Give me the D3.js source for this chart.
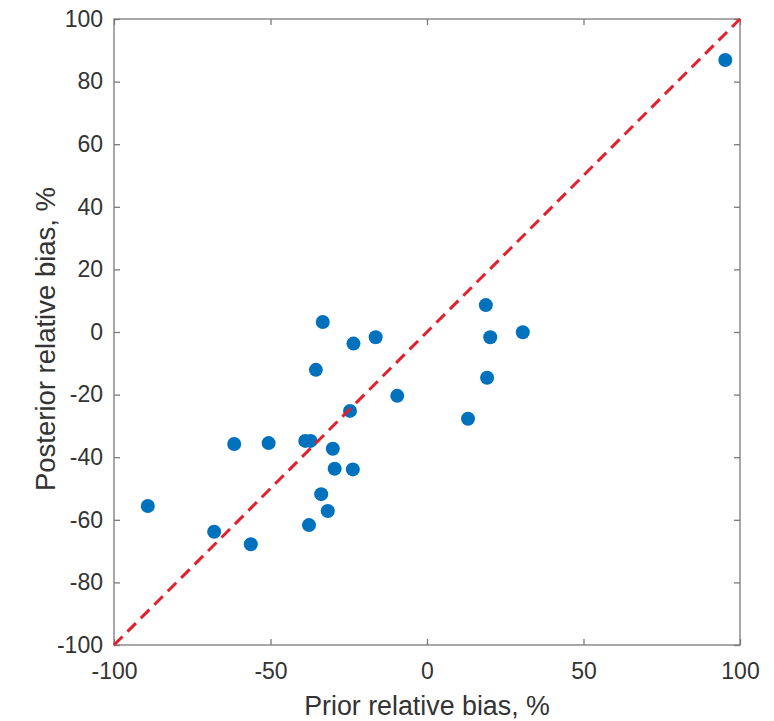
<!DOCTYPE html>
<html>
<head>
<meta charset="utf-8">
<script src="https://cdn.jsdelivr.net/npm/d3@7"></script>
<style>
  body { margin: 0; background: #fff; }
  svg { display: block; }
</style>
</head>
<body>
<script>
// prior vs posterior relative bias (%)
let priorBias = [-89.2, -68.0, -61.6, -56.3, -50.6, -38.9, -37.2, -33.3, -35.5, -23.5,
                 -16.4, -9.5, -24.6, -30.1, -29.5, -23.7, -33.8, -31.7, -37.7,
                 18.8, 20.2, 30.6, 19.2, 13.1, 95.3];
let postBias = [-55.6, -63.8, -35.8, -67.8, -35.5, -34.8, -34.8, 3.2, -12.1, -3.7,
                -1.7, -20.4, -25.2, -37.3, -43.7, -43.9, -51.8, -57.2, -61.7,
                8.6, -1.7, -0.1, -14.6, -27.7, 86.9];
let xTicks = [-100, -50, 0, 50, 100];
let yTicks = [-100, -80, -60, -40, -20, 0, 20, 40, 60, 80, 100];

let W = 774, H = 721;
let pLeft = 114, pRight = 740, pTop = 19, pBottom = 645;
let font = "Liberation Sans, Arial, sans-serif";

let svg = d3.select("body").append("svg")
	.attr("width", W)
	.attr("height", H)

let x = d3.scaleLinear().domain([-100, 100]).range([pLeft, pRight]);
let y = d3.scaleLinear().domain([-100, 100]).range([pBottom, pTop]);

// box
svg.append("rect")
	.attr("x", pLeft)
	.attr("y", pTop)
	.attr("width", pRight - pLeft)
	.attr("height", pBottom - pTop)
	.attr("fill", "none")
	.attr("stroke", "#7a7a7a")
	.attr("stroke-width", 1.3)

function styleAxis(g) {
	g.select(".domain").remove();
	g.selectAll(".tick line").attr("stroke", "#7a7a7a").attr("stroke-width", 1.3);
	g.selectAll(".tick text")
		.attr("fill", "#333")
		.attr("font-size", "23px")
		.attr("font-family", font);
}

// plain hyphen for negatives, like the original
let fmt = d => String(d);

svg.append("g")
	.attr("transform", "translate(0," + pBottom + ")")
	.call(d3.axisBottom(x).tickValues(xTicks).tickSize(-6).tickPadding(18).tickFormat(fmt))
	.call(styleAxis)
svg.append("g")
	.attr("transform", "translate(0," + pTop + ")")
	.call(d3.axisTop(x).tickValues(xTicks).tickSize(-6).tickFormat(""))
	.call(styleAxis)
svg.append("g")
	.attr("transform", "translate(" + pLeft + ",0)")
	.call(d3.axisLeft(y).tickValues(yTicks).tickSize(-6).tickPadding(11).tickFormat(fmt))
	.call(styleAxis)
svg.append("g")
	.attr("transform", "translate(" + pRight + ",0)")
	.call(d3.axisRight(y).tickValues(yTicks).tickSize(-6).tickFormat(""))
	.call(styleAxis)

// points
svg.append("g").selectAll("circle")
	.data(priorBias.map((p, i) => [p, postBias[i]]))
	.enter().append("circle")
	.attr("cx", d => x(d[0]))
	.attr("cy", d => y(d[1]))
	.attr("r", 7)
	.attr("fill", "#0072BD")

// 1:1 line
svg.append("line")
	.attr("x1", x(-100))
	.attr("y1", y(-100))
	.attr("x2", x(100))
	.attr("y2", y(100))
	.attr("stroke", "#E0202A")
	.attr("stroke-width", 3)
	.attr("stroke-dasharray", "12,7")

// labels
svg.append("text")
	.attr("x", 427)
	.attr("y", 715)
	.attr("text-anchor", "middle")
	.attr("font-size", "26.8px")
	.attr("font-family", font)
	.attr("fill", "#333")
	.text("Prior relative bias, %")

svg.append("text")
	.attr("transform", "translate(55,339) rotate(-90)")
	.attr("text-anchor", "middle")
	.attr("font-size", "27.5px")
	.attr("font-family", font)
	.attr("fill", "#333")
	.text("Posterior relative bias, %")
</script>
</body>
</html>
